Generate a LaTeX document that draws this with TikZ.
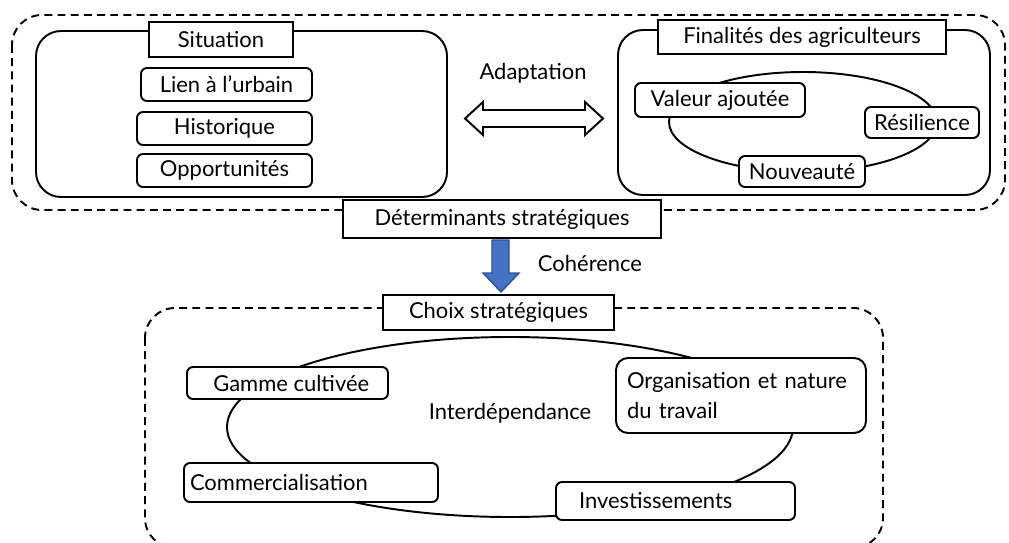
\documentclass[tikz,border=0pt]{standalone}
\usepackage{fontspec}
\setmainfont{Lato}
\usetikzlibrary{positioning, calc}
\definecolor{c1}{HTML}{000000}
\definecolor{arrowfill}{HTML}{4472C4}
\definecolor{arrowdraw}{HTML}{2F528F}

\begin{document}
\begin{tikzpicture}[
    x=0.2mm, y=-0.2mm,
    every node/.style={font=\fontsize{12.5}{14}\selectfont, text=c1},
    frame/.style={draw=c1, line width=1.1pt, dash pattern=on 4.5pt off 3pt, rounded corners=6mm},
    group/.style={draw=c1, line width=1.1pt, rounded corners=5mm},
    loop/.style={draw=c1, line width=1.1pt},
    title/.style={rectangle, draw=c1, fill=white, line width=1.1pt, inner sep=0pt},
    item/.style={rectangle, draw=c1, fill=white, line width=1.1pt, rounded corners=1.2mm, inner sep=0pt},
    lab/.style={inner sep=0pt},
]
\useasboundingbox (0,0) rectangle (1009,542);

% ============================================================ determinants
\draw[frame] (12,15) rectangle (1005,210);

% situation
\draw[group] (36,31) rectangle (447,197);
\node[title, minimum width=28.8mm, minimum height=7mm] (sit) at (221,39.5) {Situation};
\node[item, minimum width=34.2mm, minimum height=6.6mm] (lien) at (226.5,84.5) {Lien à l’urbain};
\node[item, minimum width=35mm, minimum height=6.6mm] (hist) at (224.5,128.5) {Historique};
\node[item, minimum width=35mm, minimum height=6.6mm] (opp) at (224.5,170.5) {Opportunités};

% adaptation, both ways
\node[lab] (adapt) at (533,73) {Adaptation};
\draw[c1, fill=white, line width=1.1pt, line join=miter]
    (465,118.5) -- (483,102) -- (483,110) -- (585,110) -- (585,102) -- (603,118.5)
    -- (585,135) -- (585,127) -- (483,127) -- (483,135) -- cycle;

% finalites
\draw[group] (618,30) rectangle (990,195);
\node[title, minimum width=57.6mm, minimum height=6.8mm] (fin) at (802,37) {Finalités des agriculteurs};
\draw[loop] (803,122) ellipse [x radius=26.8mm, y radius=10mm];
\node[item, minimum width=34mm, minimum height=6.8mm] (val) at (720,100) {Valeur ajoutée\hspace{1mm}};
\node[item, minimum width=22.8mm, minimum height=6.2mm] (res) at (922,122.5) {Résilience};
\node[item, minimum width=25.2mm, minimum height=6.2mm] (nouv) at (802,171.5) {Nouveauté};

\node[title, minimum width=63.6mm, minimum height=7.6mm] (det) at (502,219) {Déterminants stratégiques};

% ============================================================ coherence
\draw[arrowdraw, fill=arrowfill, line width=0.8pt, line join=miter]
    (492,240) -- (509,240) -- (509,273) -- (519,273) -- (501,292) -- (483,273) -- (492,273) -- cycle;
\node[lab] (coh) at (590,263) {Cohérence};

% ============================================================ choix
\draw[frame] (145,308) rectangle (883,548);
\node[title, minimum width=46.2mm, minimum height=7mm] (choix) at (498.5,312.5) {Choix stratégiques};
\draw[loop] (510,427) ellipse [x radius=56.6mm, y radius=18mm];
\node[lab] (inter) at (510,413) {Interdépendance};

\node[item, minimum width=40.2mm, minimum height=6.4mm] (gamme) at (287.5,383) {\hspace{1.5mm}Gamme cultivée};
\node[item, minimum height=7.8mm, inner xsep=1.2mm, text width=48.4mm, align=left] (comm) at (311,482.5) {Commercialisation};
\node[item, minimum height=7.6mm, inner xsep=4.6mm, text width=38.6mm, align=left] (inv) at (675.5,501) {Investissements};
\node[item, rounded corners=2.4mm, minimum height=15mm, inner xsep=2.2mm, text width=45.6mm, align=left,
      font=\fontsize{12.5}{17}\selectfont] (org) at (741,395.5) {Organisation et nature\\du travail};

\end{tikzpicture}
\end{document}
